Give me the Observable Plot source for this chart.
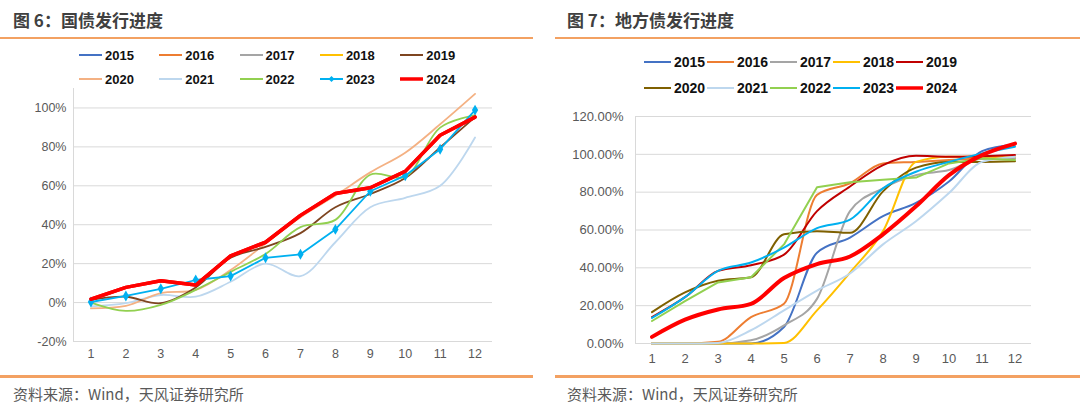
<!DOCTYPE html>
<html><head><meta charset="utf-8">
<script src="https://cdn.jsdelivr.net/npm/d3@7"></script>
<script src="https://cdn.jsdelivr.net/npm/@observablehq/plot@0.6"></script>
<style>
body{margin:0;background:#fff;}
#root{position:relative;width:1080px;height:416px;overflow:hidden;font-family:"Liberation Sans",Arial,sans-serif;background:#fff;}
.abs{position:absolute;}
.title{position:absolute;font-family:"Noto Sans CJK SC",sans-serif;font-weight:bold;font-size:17px;color:#404040;line-height:20px;white-space:nowrap;}
.rule{position:absolute;background:#F3A162;}
.src{position:absolute;font-family:"Noto Sans CJK SC",sans-serif;font-size:15px;color:#595959;line-height:18px;white-space:nowrap;}
.leg{position:absolute;display:flex;align-items:center;height:16px;white-space:nowrap;color:#111;}
.leg svg{display:block;}
.plot{position:absolute;}
</style></head><body><div id="root"></div>
<script>
// ---------- data ----------
const months = [1,2,3,4,5,6,7,8,9,10,11,12];
const years = ["2015","2016","2017","2018","2019","2020","2021","2022","2023","2024"];

// 图6 国债发行进度 (%)
const gz2019 = [1.4,3.0,-0.3,7.8,23.0,28.6,35.7,49.0,55.8,64.0,79.7,95.3];
const gz2020 = [-3.0,-1.7,4.8,6.5,16.7,30.3,43.9,55.0,66.9,77.0,91.6,107.2];
const gz2021 = [-2.0,-0.3,3.9,3.0,10.7,20.0,13.6,31.0,49.0,53.8,60.0,84.8];
const gz2022 = [0.0,-4.3,-1.2,6.5,15.8,25.0,38.8,42.5,65.7,64.7,89.9,96.3];
const gz2023 = [0.3,3.4,7.1,11.6,13.6,23.0,24.8,37.6,57.2,65.2,78.8,98.9];
const gz2024 = [1.7,7.8,11.2,9.0,24.0,31.0,44.8,56.0,59.0,67.4,86.0,95.3];

// 图7 地方债发行进度 (%)
const df2015 = [0,0,0,0,8.7,48.0,56.0,67.3,74.3,85.6,101.7,105.2];
const df2016 = [0,0,0.9,14.0,21.0,78.6,84.7,95.2,96.0,97.0,97.8,98.2];
const df2017 = [0,0,0,1.7,9.6,23.6,70.0,82.0,89.0,91.7,97.8,97.8];
const df2018 = [0,0,0,0,0.3,17.5,37.5,59.4,96.0,98.7,98.7,98.7];
const df2019 = [14.0,24.5,38.4,41.4,47.0,70.0,83.0,94.3,99.2,98.7,99.0,99.6];
const df2020 = [16.6,27.0,33.2,35.0,57.7,59.4,58.5,80.4,93.0,96.0,96.0,96.3];
const df2021 = [0,0,0.3,7.0,17.5,28.0,37.0,52.4,64.6,79.5,96.0,98.7];
const df2022 = [11.9,22.4,32.3,35.0,52.4,82.6,85.3,86.5,87.7,95.2,97.8,97.0];
const df2023 = [13.5,24.5,38.4,42.8,50.7,61.0,65.5,82.0,90.8,96.0,100.5,104.0];
const df2024 = [3.5,12.6,18.0,21.0,34.6,42.0,46.0,57.7,72.5,89.0,99.6,105.7];

const gzTicks = [-20,0,20,40,60,80,100];
const dfTicks = [0,20,40,60,80,100,120];

const gzColors = ["#4472C4","#ED7D31","#A5A5A5","#FFC000","#7E4520","#F4B183","#BDD7EE","#92D050","#00B0F0","#FF0000"];
const dfColors = ["#4472C4","#ED7D31","#A5A5A5","#FFC000","#C00000","#7F6000","#BDD7EE","#92D050","#00B0F0","#FF0000"];

const gzSeries = {"2019":gz2019,"2020":gz2020,"2021":gz2021,"2022":gz2022,"2023":gz2023,"2024":gz2024};
const dfSeries = {"2015":df2015,"2016":df2016,"2017":df2017,"2018":df2018,"2019":df2019,"2020":df2020,"2021":df2021,"2022":df2022,"2023":df2023,"2024":df2024};

function rows(series){
  const out=[];
  for(const y of Object.keys(series)) series[y].forEach((v,i)=>out.push({year:y,month:months[i],v}));
  return out;
}
const gzRows = rows(gzSeries);
const dfRows = rows(dfSeries);

const root = document.getElementById("root");
function add(cls, style, html){
  const d=document.createElement("div"); d.className=cls; Object.assign(d.style,style); if(html!=null) d.innerHTML=html; root.appendChild(d); return d;
}

// titles & rules
add("title",{left:"13px",top:"10px"},"图 6：国债发行进度");
add("title",{left:"567px",top:"10px"},"图 7：地方债发行进度");
add("rule",{left:"0px",top:"37px",width:"533px",height:"2px"});
add("rule",{left:"555px",top:"37px",width:"525px",height:"2px"});
add("rule",{left:"0px",top:"375px",width:"533px",height:"2.5px"});
add("rule",{left:"555px",top:"375px",width:"525px",height:"2.5px"});
add("src",{left:"13px",top:"385px"},"资料来源：Wind，天风证券研究所");
add("src",{left:"567px",top:"385px"},"资料来源：Wind，天风证券研究所");

// legends
function legend(x0, dx, rowsY, len, colors, fontSize, weight, marker){
  years.forEach((y,i)=>{
    const col=i%5, row=Math.floor(i/5);
    const w = y==="2024"?3.5:2;
    let mk = (marker && y==="2023") ? `<path d="M${len/2} 2 L${len/2+3} 5 L${len/2} 8 L${len/2-3} 5Z" fill="${colors[i]}"/>` : "";
    const html = `<svg width="${len}" height="10"><line x1="0" x2="${len}" y1="5" y2="5" stroke="${colors[i]}" stroke-width="${w}"/>${mk}</svg><span style="margin-left:3px;font-size:${fontSize}px;font-weight:${weight}">${y}</span>`;
    add("leg",{left:(x0+col*dx)+"px",top:(rowsY[row]-8)+"px"},html);
  });
}
legend(79, 80.3, [55,79], 23, gzColors, 13, "bold", true);
legend(644, 63, [62,88], 27, dfColors, 14, "bold", false);

// ---------- 图6 ----------
const gzOrder = ["2021","2020","2019","2022","2023","2024"];
const gzColorOf = y => gzColors[years.indexOf(y)];
const p1 = Plot.plot({
  width:540, height:310,
  marginTop:28, marginBottom:29, marginLeft:73, marginRight:48,
  style:{fontFamily:"Liberation Sans, Arial, sans-serif", fontSize:"12.5px", color:"#595959", background:"transparent"},
  x:{domain:[0.5,12.5]},
  y:{domain:[-20,110]},
  marks:[
    Plot.gridY(gzTicks.slice(1),{stroke:"#d9d9d9",strokeOpacity:1}),
    Plot.ruleY([-20],{stroke:"#d9d9d9"}),
    Plot.ruleX([0.5],{stroke:"#d9d9d9"}),
    Plot.axisY(gzTicks,{tickSize:0,tickPadding:7,tickFormat:d=>d+"%",label:null}),
    Plot.axisX(months,{tickSize:0,tickPadding:8,label:null}),
    ...gzOrder.map(y=>Plot.line(gzRows.filter(d=>d.year===y),{
      x:"month",y:"v",stroke:gzColorOf(y),strokeWidth:y==="2024"?3.5:1.8,
      curve:(y==="2024"||y==="2023")?"linear":"catmull-rom"})),
    Plot.dot(gzRows.filter(d=>d.year==="2023"),{x:"month",y:"v",symbol:"diamond",r:3.3,fill:gzColorOf("2023"),stroke:null}),
    Plot.line(gzRows.filter(d=>d.year==="2024"),{x:"month",y:"v",stroke:gzColorOf("2024"),strokeWidth:3.5})
  ]
});
p1.classList.add("plot"); p1.style.left="0px"; p1.style.top="60px";
root.appendChild(p1);

// ---------- 图7 ----------
const p2 = Plot.plot({
  width:540, height:270,
  marginTop:16, marginBottom:27, marginLeft:95, marginRight:49,
  style:{fontFamily:"Liberation Sans, Arial, sans-serif", fontSize:"13px", color:"#595959", background:"transparent"},
  x:{domain:[0.5,12.5]},
  y:{domain:[0,120]},
  marks:[
    Plot.gridY(dfTicks.slice(1),{stroke:"#d9d9d9",strokeOpacity:1}),
    Plot.ruleY([0],{stroke:"#d9d9d9"}),
    Plot.ruleX([0.5],{stroke:"#d9d9d9"}),
    Plot.axisY(dfTicks,{tickSize:0,tickPadding:12,tickFormat:d=>d.toFixed(2)+"%",label:null}),
    Plot.axisX(months,{tickSize:0,tickPadding:10,label:null}),
    ...years.map((y,i)=>Plot.line(dfRows.filter(d=>d.year===y),{
      x:"month",y:"v",stroke:dfColors[i],strokeWidth:y==="2024"?4:2,
      curve:y==="2022"?"linear":"monotone-x"}))
  ]
});
p2.classList.add("plot"); p2.style.left="540px"; p2.style.top="100px";
root.appendChild(p2);
</script>
</body></html>
